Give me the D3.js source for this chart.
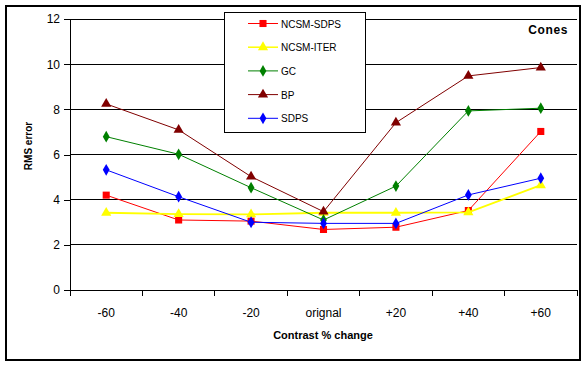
<!DOCTYPE html>
<html>
<head>
<meta charset="utf-8">
<script src="https://cdn.jsdelivr.net/npm/d3@7"></script>
<style>
  body { margin: 0; background: #fff; }
  svg { font-family: "Liberation Sans", Arial, sans-serif; }
  .crisp { shape-rendering: crispEdges; }
</style>
</head>
<body>
<svg id="chart" width="587" height="367"></svg>
<script>
// categories on the x axis
const categories = ["-60", "-40", "-20", "orignal", "+20", "+40", "+60"];
const yTicks = [0, 2, 4, 6, 8, 10, 12];

// series values
const ncsmSdps = [4.2, 3.1, 3.05, 2.68, 2.78, 3.52, 7.02];
const ncsmIter = [3.42, 3.36, 3.35, 3.42, 3.42, 3.44, 4.64];
const gc = [6.79, 6.01, 4.53, 3.1, 4.6, 7.93, 8.05];
const bp = [8.24, 7.09, 5.02, 3.47, 7.41, 9.48, 9.85];
const sdps = [5.32, 4.13, 3.0, 2.95, 2.95, 4.21, 4.95];

const seriesNames = ["NCSM-SDPS", "NCSM-ITER", "GC", "BP", "SDPS"];
const seriesColors = ["#ff0000", "#ffff00", "#008000", "#800000", "#0000ff"];
const seriesMarkers = ["square", "triangle", "diamond", "triangle", "diamond"];
const seriesValues = [ncsmSdps, ncsmIter, gc, bp, sdps];

const MARGIN = { left: 70, top: 19, right: 10, bottom: 77 };
const width = 577 - MARGIN.left;
const height = 290 - MARGIN.top;

const svg = d3.select("#chart");

// outer frame
svg.append("rect")
  .attr("class", "crisp")
  .attr("x", 6).attr("y", 6)
  .attr("width", 574).attr("height", 354)
  .attr("fill", "#fff")
  .attr("stroke", "#000")
  .attr("stroke-width", 2);

const xScale = d3.scaleBand().domain(categories).range([0, width]);
const yScale = d3.scaleLinear().domain([0, 12]).range([height, 0]);

const g = svg.append("g").attr("transform", `translate(${MARGIN.left},${MARGIN.top})`);

// gridlines
g.selectAll(".grid")
  .data(yTicks.filter(d => d > 0))
  .enter()
  .append("line")
  .attr("class", "crisp")
  .attr("x1", 0).attr("x2", width)
  .attr("y1", d => yScale(d)).attr("y2", d => yScale(d))
  .attr("stroke", "#000")
  .attr("stroke-width", 1);

// y axis
const yAxis = g.append("g")
  .attr("class", "crisp")
  .call(d3.axisLeft(yScale).tickValues(yTicks).tickSize(6).tickSizeOuter(0));
yAxis.select(".domain").attr("stroke", "#000");
yAxis.selectAll("text")
  .style("font-size", "12px")
  .attr("x", -10)
  .attr("fill", "#000");

// x axis with ticks at band boundaries
const xAxisG = g.append("g").attr("class", "crisp").attr("transform", `translate(0,${height})`);
xAxisG.append("line")
  .attr("x1", 0).attr("x2", width)
  .attr("y1", 0).attr("y2", 0)
  .attr("stroke", "#000");
const boundaries = categories.map(c => xScale(c)).concat([width]);
xAxisG.selectAll(".xtick")
  .data(boundaries)
  .enter()
  .append("line")
  .attr("x1", d => d).attr("x2", d => d)
  .attr("y1", 0).attr("y2", 6)
  .attr("stroke", "#000");
xAxisG.selectAll(".xlabel")
  .data(categories)
  .enter()
  .append("text")
  .attr("x", d => xScale(d) + xScale.bandwidth() / 2)
  .attr("y", 27)
  .attr("text-anchor", "middle")
  .style("font-size", "12px")
  .text(d => d);

// axis titles
svg.append("text")
  .attr("x", 323).attr("y", 339)
  .attr("text-anchor", "middle")
  .style("font-size", "11px")
  .style("font-weight", "bold")
  .text("Contrast % change");

svg.append("text")
  .attr("transform", "translate(32,146) rotate(-90)")
  .attr("text-anchor", "middle")
  .style("font-size", "10px")
  .style("font-weight", "bold")
  .text("RMS error");

svg.append("text")
  .attr("x", 568).attr("y", 34)
  .attr("text-anchor", "end")
  .style("font-size", "12px")
  .style("font-weight", "bold")
  .style("letter-spacing", "0.6px")
  .text("Cones");

const symbolFor = {
  square: d3.symbol().type(d3.symbolSquare).size(50),
  triangle: d3.symbol().type(d3.symbolTriangle).size(45),
  diamond: d3.symbol().type(d3.symbolDiamond).size(40)
};

const line = d3.line()
  .x((d, i) => xScale(categories[i]) + xScale.bandwidth() / 2)
  .y(d => yScale(d));

seriesValues.forEach((vals, s) => {
  g.append("path")
    .datum(vals)
    .attr("d", line)
    .attr("fill", "none")
    .attr("stroke", seriesColors[s])
    .attr("stroke-width", s === 1 ? 1.8 : 1);

  g.selectAll(".m" + s)
    .data(vals)
    .enter()
    .append("path")
    .attr("d", symbolFor[seriesMarkers[s]])
    .attr("transform", (d, i) => `translate(${xScale(categories[i]) + xScale.bandwidth() / 2},${yScale(d)})`)
    .attr("fill", seriesColors[s]);
});

// legend
const legend = svg.append("g");
legend.append("rect")
  .attr("class", "crisp")
  .attr("x", 224.5).attr("y", 12.5)
  .attr("width", 141).attr("height", 120)
  .attr("fill", "#fff")
  .attr("stroke", "#000");

seriesNames.forEach((name, s) => {
  const ly = 23.5 + s * 23.7;
  legend.append("line")
    .attr("x1", 248).attr("x2", 278)
    .attr("y1", ly).attr("y2", ly)
    .attr("stroke", seriesColors[s])
    .attr("stroke-width", s === 1 ? 1.5 : 1);
  legend.append("path")
    .attr("d", symbolFor[seriesMarkers[s]])
    .attr("transform", `translate(263,${ly})`)
    .attr("fill", seriesColors[s]);
  legend.append("text")
    .attr("x", 281).attr("y", ly + 4)
    .style("font-size", "10px")
    .text(name);
});
</script>
</body>
</html>
